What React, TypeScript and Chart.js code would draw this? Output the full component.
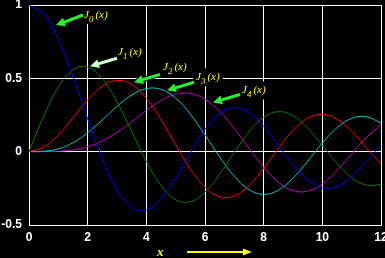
import React, { useEffect, useRef } from 'react';
import { Chart, registerables } from 'chart.js';
Chart.register(...registerables);

const xValues = [0, 0.5, 1, 1.5, 2, 2.5, 3, 3.5, 4, 4.5, 5, 5.5, 6, 6.5, 7, 7.5, 8, 8.5, 9, 9.5, 10, 10.5, 11, 11.5, 12];
const j0 = [1, 0.9385, 0.7652, 0.5118, 0.2239, -0.0484, -0.2601, -0.3801, -0.3971, -0.3205, -0.1776, -0.0068, 0.1506, 0.2601, 0.3001, 0.2663, 0.1717, 0.0419, -0.0903, -0.1939, -0.2459, -0.2366, -0.1712, -0.0677, 0.0477];
const j1 = [0, 0.2423, 0.4401, 0.5579, 0.5767, 0.4971, 0.3391, 0.1374, -0.066, -0.2311, -0.3276, -0.3414, -0.2767, -0.1538, -0.0047, 0.1352, 0.2346, 0.2731, 0.2453, 0.1613, 0.0435, -0.0789, -0.1768, -0.2284, -0.2234];
const j2 = [0, 0.0306, 0.1149, 0.2321, 0.3528, 0.4461, 0.4861, 0.4586, 0.3641, 0.2178, 0.0466, -0.1173, -0.2429, -0.3074, -0.3014, -0.2303, -0.113, 0.0223, 0.1448, 0.2279, 0.2546, 0.2216, 0.139, 0.028, -0.0849];
const j3 = [0, 0.0026, 0.0196, 0.061, 0.1289, 0.2167, 0.3091, 0.3867, 0.4301, 0.4247, 0.3648, 0.2561, 0.1148, -0.0354, -0.1676, -0.258, -0.2911, -0.2626, -0.1809, -0.0653, 0.0583, 0.1633, 0.2273, 0.2381, 0.1951];
const j4 = [0, 0.0002, 0.0025, 0.0118, 0.034, 0.074, 0.1321, 0.2043, 0.2811, 0.3485, 0.3912, 0.3967, 0.3577, 0.2747, 0.1578, 0.0239, -0.1054, -0.2077, -0.2654, -0.2691, -0.2196, -0.1283, -0.015, 0.0962, 0.1825];

const seriesNames = ['J0(x)', 'J1(x)', 'J2(x)', 'J3(x)', 'J4(x)'];
const seriesColors = ['#0000ff', '#008000', '#ff0000', '#00c8c8', '#c800c8'];
const xTicks = [0, 2, 4, 6, 8, 10, 12];
const yTicks = [-0.5, 0, 0.5, 1];

// annotation labels: subscript, anchor (data units), arrow tail/tip (data units)
const labelSubs = ['0', '1', '2', '3', '4'];
const labelX = [1.875, 3.034, 4.569, 5.694, 7.262];
const labelY = [0.911, 0.658, 0.555, 0.486, 0.397];
const arrowFromX = [1.841, 3.0, 4.466, 5.626, 7.194];
const arrowFromY = [0.932, 0.637, 0.527, 0.473, 0.39];
const arrowToX = [0.921, 2.08, 3.58, 4.705, 6.273];
const arrowToY = [0.863, 0.582, 0.473, 0.418, 0.336];
const arrowColors = ['#2bef2b', '#ccffcc', '#2bef2b', '#2bef2b', '#2bef2b'];

const xTitle = 'x';
const xTitleAt = 4.36;
const xArrowFrom = 5.39;
const xArrowTo = 7.6;

function drawArrow(ctx: CanvasRenderingContext2D, x0: number, y0: number, x1: number, y1: number, color: string, w: number, L: number, H: number, outline: boolean) {
  const dx = x1 - x0, dy = y1 - y0;
  const len = Math.hypot(dx, dy) || 1;
  const ux = dx / len, uy = dy / len;
  const nx = -uy, ny = ux;
  const bx = x1 - ux * L, by = y1 - uy * L;
  const pass = (col: string, extra: number) => {
    ctx.strokeStyle = col;
    ctx.fillStyle = col;
    ctx.lineWidth = w + extra;
    ctx.lineCap = 'butt';
    ctx.beginPath();
    ctx.moveTo(x0, y0);
    ctx.lineTo(bx + ux * 1, by + uy * 1);
    ctx.stroke();
    ctx.beginPath();
    ctx.moveTo(x1, y1);
    ctx.lineTo(bx + nx * H, by + ny * H);
    ctx.lineTo(bx - nx * H, by - ny * H);
    ctx.closePath();
    ctx.fill();
    if (extra > 0) {
      ctx.lineWidth = extra;
      ctx.stroke();
    }
  };
  if (outline) pass('#000000', 2);
  pass(color, 0);
}

const annotPlugin = {
  id: 'besselAnnot',
  afterDatasetsDraw(chart: any) {
    const ctx: CanvasRenderingContext2D = chart.ctx;
    const xs = chart.scales.x;
    const ys = chart.scales.y;
    ctx.save();
    const mainFont = 'italic 11px "Liberation Serif", "DejaVu Serif", serif';
    const subFont = 'italic 9px "Liberation Serif", "DejaVu Serif", serif';
    const boxes: any[] = [];
    for (let i = 0; i < labelSubs.length; i++) {
      const tx = xs.getPixelForValue(labelX[i]);
      const ty = ys.getPixelForValue(labelY[i]);
      ctx.font = mainFont;
      const wJ = ctx.measureText('J').width;
      const wP = ctx.measureText('(x)').width;
      ctx.font = subFont;
      const wS = ctx.measureText(labelSubs[i]).width;
      const total = wJ + wS + 2 + wP;
      boxes.push({ tx, ty, wJ, wS, total });
      ctx.fillStyle = '#000000';
      ctx.fillRect(tx - 3, ty - 12, total + 6, 18);
    }
    for (let i = 0; i < labelSubs.length; i++) {
      drawArrow(ctx,
        xs.getPixelForValue(arrowFromX[i]), ys.getPixelForValue(arrowFromY[i]),
        xs.getPixelForValue(arrowToX[i]), ys.getPixelForValue(arrowToY[i]),
        arrowColors[i], 3, 9, 4.5, true);
    }
    ctx.textBaseline = 'alphabetic';
    ctx.textAlign = 'left';
    ctx.fillStyle = '#ffff00';
    for (let i = 0; i < labelSubs.length; i++) {
      const b = boxes[i];
      ctx.font = mainFont;
      ctx.fillText('J', b.tx, b.ty);
      ctx.font = subFont;
      ctx.fillText(labelSubs[i], b.tx + b.wJ, b.ty + 4);
      ctx.font = mainFont;
      ctx.fillText('(x)', b.tx + b.wJ + b.wS + 2, b.ty);
    }
    // x axis title and arrow
    const area = chart.chartArea;
    ctx.font = 'bold italic 13px "Liberation Serif", "DejaVu Serif", serif';
    ctx.fillStyle = '#ffff00';
    ctx.fillText(xTitle, xs.getPixelForValue(xTitleAt), area.bottom + 31);
    const ay = area.bottom + 27;
    drawArrow(ctx, xs.getPixelForValue(xArrowFrom), ay, xs.getPixelForValue(xArrowTo), ay, '#ffff00', 2, 9, 3.5, false);
    ctx.restore();
  },
};

export default function App() {
  const ref = useRef<HTMLCanvasElement>(null);
  useEffect(() => {
    const series = [j0, j1, j2, j3, j4];
    const chart = new Chart(ref.current as HTMLCanvasElement, {
      type: 'line',
      data: {
        datasets: series.map((s, i) => ({
          label: seriesNames[i],
          data: xValues.map((x, k) => ({ x, y: s[k] })),
          borderColor: seriesColors[i],
          backgroundColor: seriesColors[i],
          borderWidth: 1,
          pointRadius: 0,
          tension: 0.4,
          fill: false,
        })),
      },
      options: {
        responsive: false,
        animation: false,
        layout: { padding: { top: 5, right: 4, left: 0, bottom: 0 } },
        plugins: { legend: { display: false }, tooltip: { enabled: false }, title: { display: false } },
        scales: {
          x: {
            type: 'linear',
            min: 0,
            max: 12,
            afterBuildTicks: (scale: any) => { scale.ticks = xTicks.map((v) => ({ value: v })); },
            afterFit: (scale: any) => { scale.height = 33; scale.paddingLeft = 0; scale.paddingRight = 0; },
            ticks: {
              color: '#ffffff',
              font: { family: '"Liberation Sans", Arial, sans-serif', size: 12, weight: 'bold' },
              padding: 5,
              maxRotation: 0,
              autoSkip: false,
            },
            grid: { color: '#ffffff', lineWidth: 1, drawTicks: false },
            border: { color: '#ffffff', width: 1 },
          },
          y: {
            type: 'linear',
            min: -0.5,
            max: 1,
            afterBuildTicks: (scale: any) => { scale.ticks = yTicks.map((v) => ({ value: v })); },
            afterFit: (scale: any) => { scale.width = 29; scale.paddingTop = 0; scale.paddingBottom = 0; },
            ticks: {
              color: '#ffffff',
              font: { family: '"Liberation Sans", Arial, sans-serif', size: 12, weight: 'bold' },
              padding: 7,
              autoSkip: false,
              callback: (v: any) => String(v),
            },
            grid: { color: '#ffffff', lineWidth: 1, drawTicks: false },
            border: { color: '#ffffff', width: 1 },
          },
        },
      } as any,
      plugins: [annotPlugin],
    });
    return () => chart.destroy();
  }, []);
  return (
    <div style={{ position: 'fixed', left: 0, top: 0, width: 385, height: 258, background: '#000000', overflow: 'hidden' }}>
      <canvas ref={ref} width={385} height={258} style={{ display: 'block' }} />
    </div>
  );
}
